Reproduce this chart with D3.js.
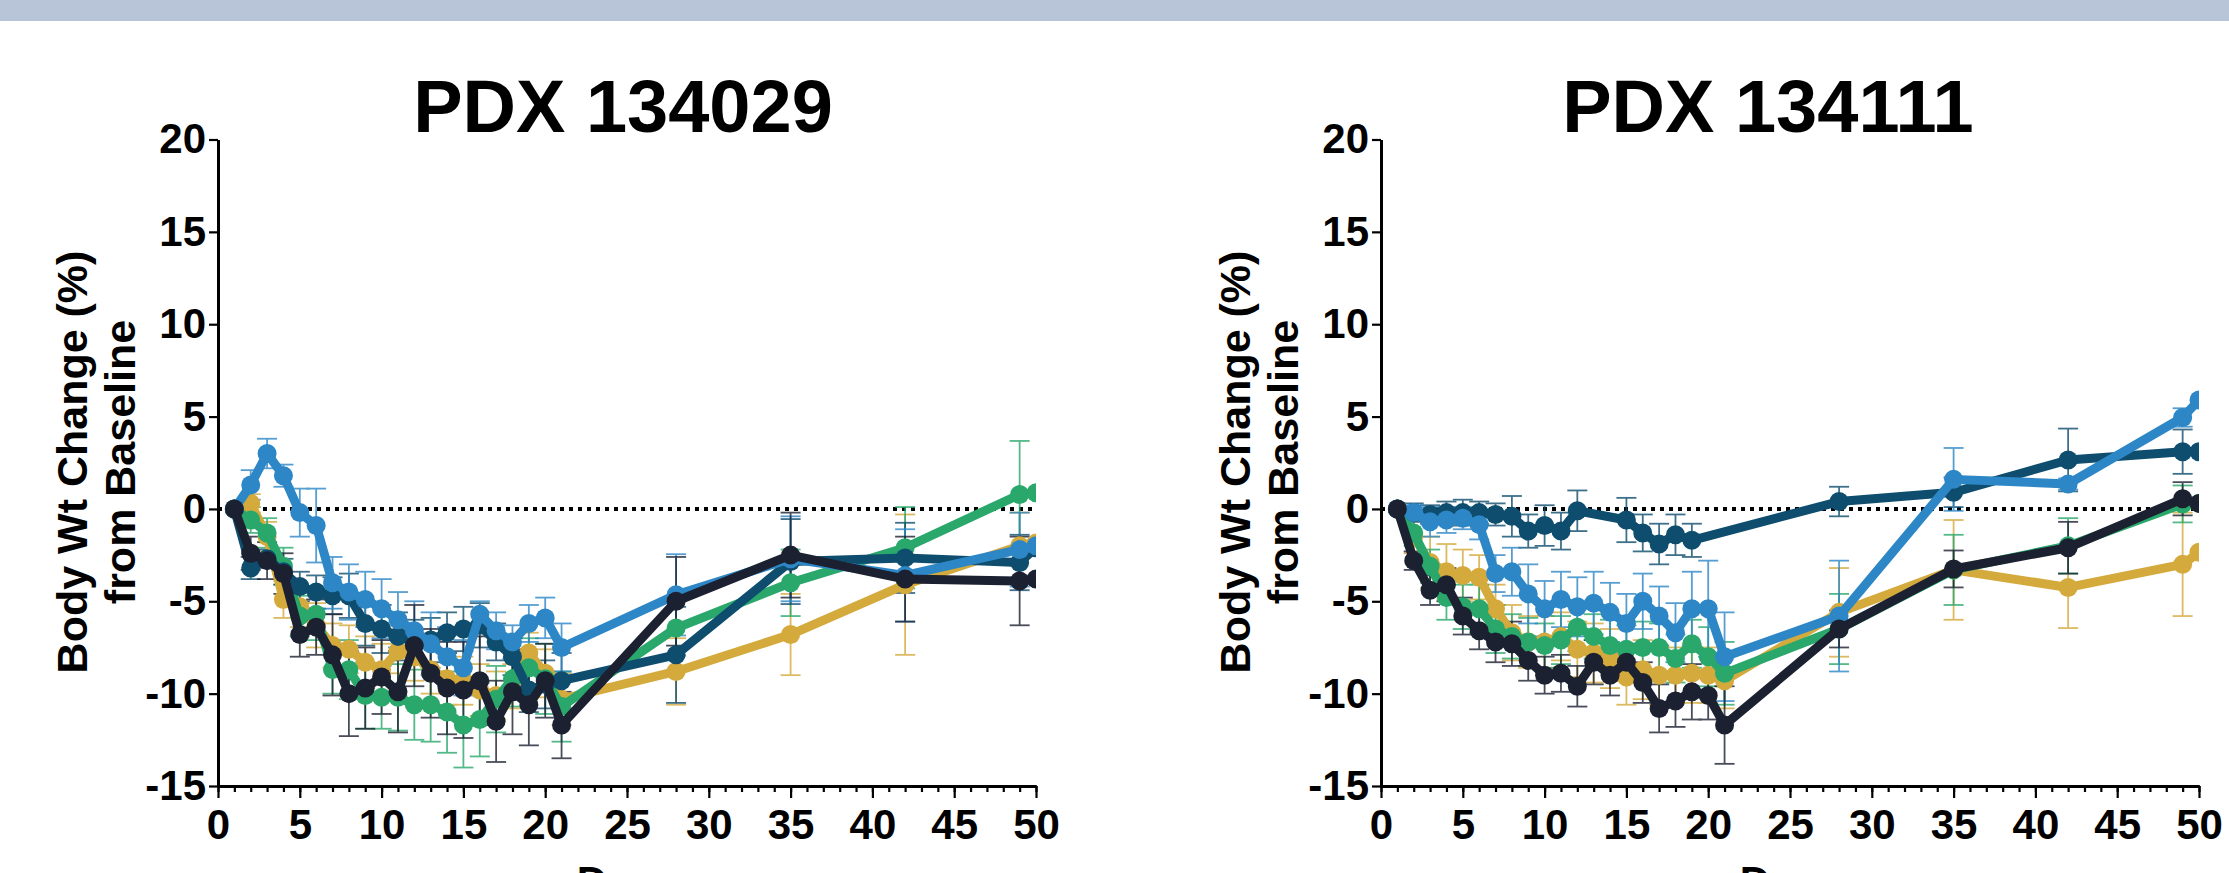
<!DOCTYPE html>
<html>
<head>
<meta charset="utf-8">
<script src="https://cdn.jsdelivr.net/npm/d3@7"></script>
<style>
  body { margin: 0; background: #fff; overflow: hidden; }
  text { font-family: "Liberation Sans", Arial, sans-serif; font-weight: bold; fill: #000; }
</style>
</head>
<body>
<svg id="chart" width="2229" height="873"></svg>
<script>
// ---- data ----
const days = [1, 2, 3, 4, 5, 6, 7, 8, 9, 10, 11, 12, 13, 14, 15, 16, 17, 18, 19, 20, 21, 28, 35, 42, 49, 50];
const xTickLabels = [0, 5, 10, 15, 20, 25, 30, 35, 40, 45, 50];
const yTickLabels = [-15, -10, -5, 0, 5, 10, 15, 20];
const titles = ["PDX 134029", "PDX 134111"];
const seriesNames = ["gold", "green", "teal", "lightBlue", "black"];
const seriesColors = ["#d4aa3c", "#2aa86c", "#0e4d6e", "#2d87c6", "#1c2131"];

// PDX 134029 (left)
const gold_L   = [0, 0.3, -1.5, -4.9, -5.3, -6.3, -7.4, -7.6, -8.3, -8.7, -7.7, -8.0, -8.7, -9.2, -9.3, -9.8, -10.1, -9.6, -7.8, -8.9, -10.3, -8.8, -6.8, -4.1, -2.0, -1.85];
const green_L  = [0, -0.6, -1.3, -3.1, -5.8, -5.7, -8.7, -8.7, -10.1, -10.2, -10.2, -10.6, -10.6, -11.0, -11.7, -11.4, -10.3, -9.2, -8.6, -9.2, -10.7, -6.45, -4.0, -2.1, 0.78, 0.87];
const teal_L   = [0, -3.2, -2.7, -3.4, -4.2, -4.5, -4.7, -4.7, -6.2, -6.5, -6.9, -7.2, -7.1, -6.7, -6.5, -6.3, -7.2, -8.0, -9.8, -9.5, -9.3, -7.9, -2.85, -2.65, -2.9, -2.1];
const lblue_L  = [0, 1.3, 3.0, 1.8, -0.2, -0.9, -4.0, -4.5, -4.9, -5.4, -6.0, -6.6, -7.3, -8.0, -8.6, -5.7, -6.6, -7.2, -6.2, -5.9, -7.5, -4.65, -2.7, -3.6, -2.2, -2.0];
const black_L  = [0, -2.4, -2.8, -3.5, -6.8, -6.4, -7.9, -10.0, -9.7, -9.1, -9.9, -7.4, -8.9, -9.7, -9.8, -9.3, -11.5, -9.9, -10.6, -9.3, -11.7, -5.0, -2.5, -3.8, -3.9, -3.8];
const goldErr_L  = [0, 0.5, 0.8, 1.0, 1.1, 1.2, 1.2, 1.3, 1.4, 1.4, 1.2, 1.3, 1.3, 1.4, 1.3, 1.4, 1.3, 1.2, 1.1, 1.3, 1.4, 1.8, 2.2, 3.8, 1.8, 0];
const greenErr_L = [0, 0.7, 0.8, 1.0, 1.1, 1.4, 1.3, 1.6, 1.8, 1.7, 1.8, 1.9, 2.0, 2.2, 2.3, 2.0, 1.8, 1.5, 1.6, 1.9, 1.9, 1.5, 1.8, 2.2, 2.9, 0];
const tealErr_L  = [0, 0.6, 0.5, 0.7, 0.8, 0.9, 1.0, 1.2, 1.2, 1.3, 1.3, 1.2, 1.2, 1.1, 1.2, 1.2, 1.0, 1.0, 1.2, 1.3, 1.5, 2.6, 2.3, 1.9, 1.5, 0];
const lblueErr_L = [0, 0.8, 0.8, 0.6, 1.3, 2.0, 1.4, 1.5, 1.5, 1.6, 1.5, 1.6, 1.7, 1.6, 1.5, 0.7, 1.0, 0.9, 1.0, 1.1, 1.3, 2.2, 2.3, 2.5, 2.0, 0];
const blackErr_L = [0, 0.9, 1.0, 1.1, 1.2, 1.5, 2.2, 2.3, 2.2, 2.0, 2.2, 2.2, 2.4, 2.5, 2.6, 2.4, 2.2, 2.3, 2.2, 2.0, 1.8, 2.4, 2.3, 2.3, 2.4, 0];

// PDX 134111 (right)
const gold_R   = [0, -1.5, -2.9, -3.4, -3.6, -3.7, -5.4, -6.7, -7.2, -7.2, -6.9, -7.6, -7.8, -8.1, -9.1, -8.7, -9.0, -9.0, -8.9, -9.0, -9.3, -5.6, -3.3, -4.25, -3.0, -2.35];
const green_R  = [0, -1.3, -3.1, -4.8, -5.3, -5.4, -6.5, -6.9, -7.2, -7.4, -7.1, -6.4, -6.9, -7.4, -7.6, -7.5, -7.5, -8.1, -7.3, -8.0, -8.9, -6.5, -3.3, -2.0, 0.27, 0.3];
const teal_R   = [0, -0.2, -0.3, -0.2, -0.2, -0.2, -0.3, -0.4, -1.2, -0.9, -1.2, -0.1, null, null, -0.6, -1.3, -1.9, -1.4, -1.7, null, null, 0.4, 0.9, 2.65, 3.1, 3.1];
const lblue_R  = [0, -0.2, -0.7, -0.6, -0.5, -0.85, -3.5, -3.4, -4.6, -5.4, -4.9, -5.3, -5.1, -5.6, -6.2, -5.0, -5.8, -6.7, -5.4, -5.4, -8.0, -5.8, 1.6, 1.35, 4.95, 5.9];
const black_R  = [0, -2.8, -4.4, -4.1, -5.8, -6.6, -7.2, -7.3, -8.2, -9.0, -8.9, -9.6, -8.3, -9.0, -8.3, -9.4, -10.8, -10.4, -9.9, -10.1, -11.7, -6.5, -3.25, -2.1, 0.55, 0.3];
const goldErr_R  = [0, 0.9, 1.4, 1.5, 1.4, 1.2, 1.3, 1.5, 1.4, 1.4, 1.3, 1.5, 1.6, 1.6, 1.5, 1.6, 1.6, 1.5, 1.6, 1.5, 1.5, 2.4, 2.7, 2.2, 2.8, 0];
const greenErr_R = [0, 0.7, 0.9, 1.2, 1.2, 1.3, 1.3, 1.2, 1.3, 1.2, 1.3, 1.3, 1.2, 1.4, 1.3, 1.4, 1.3, 1.3, 1.3, 1.6, 1.7, 1.9, 1.9, 1.5, 1.0, 0];
const tealErr_R  = [0, 0.5, 0.5, 0.6, 0.7, 0.6, 0.6, 1.1, 0.9, 1.1, 1.0, 1.1, null, null, 1.2, 1.0, 1.1, 1.1, 0.9, null, null, 0.8, 0.8, 1.7, 1.2, 0];
const lblueErr_R = [0, 0.4, 0.8, 0.7, 0.6, 0.8, 1.0, 1.3, 1.6, 1.5, 1.5, 1.6, 1.7, 1.6, 1.6, 1.5, 1.6, 1.6, 2.0, 2.6, 2.4, 3.0, 1.7, 0.3, 0.5, 0];
const blackErr_R = [0, 0.5, 0.8, 0.9, 1.0, 1.0, 1.1, 1.2, 1.1, 1.0, 1.0, 1.1, 1.2, 1.1, 1.0, 1.1, 1.3, 1.4, 1.5, 1.3, 2.1, 1.0, 1.0, 1.4, 0.9, 0];

const panels = [
  { title: titles[0], titleX: 623, x0: 218, x1: 1036,
    values: [gold_L, green_L, teal_L, lblue_L, black_L],
    errors: [goldErr_L, greenErr_L, tealErr_L, lblueErr_L, blackErr_L] },
  { title: titles[1], titleX: 1768, x0: 1381, x1: 2199,
    values: [gold_R, green_R, teal_R, lblue_R, black_R],
    errors: [goldErr_R, greenErr_R, tealErr_R, lblueErr_R, blackErr_R] }
];

const yTop = 139.5, yBottom = 786;
const fontFam = "Liberation Sans, Arial, sans-serif";

const svg = d3.select("#chart");

// light header band
svg.append("rect").attr("x", 0).attr("y", 0).attr("width", 2229).attr("height", 21).attr("fill", "#b8c4d8");

panels.forEach((p, pi) => {
  const x = d3.scaleLinear().domain([0, 50]).range([p.x0, p.x1]);
  const y = d3.scaleLinear().domain([-15, 20]).range([yBottom, yTop]);
  const g = svg.append("g");

  // title
  g.append("text")
    .attr("x", p.titleX).attr("y", 132)
    .attr("text-anchor", "middle")
    .style("font-size", "74px")
    .text(p.title);

  // y title (two lines)
  const cy = 462;
  [["Body Wt Change (%)", p.x0 - 146], ["from Baseline", p.x0 - 98]].forEach(([t, cx]) => {
    g.append("text")
      .attr("transform", "translate(" + cx + "," + cy + ") rotate(-90)")
      .attr("text-anchor", "middle")
      .attr("dy", "0.36em")
      .style("font-size", "43px")
      .text(t);
  });

  // x title, cut by the bottom edge as in the reference
  g.append("text")
    .attr("x", (p.x0 + p.x1) / 2).attr("y", 896)
    .attr("text-anchor", "middle")
    .style("font-size", "42px")
    .text("Days");

  // axes
  const yAxis = g.append("g")
    .attr("transform", "translate(" + p.x0 + ",0)")
    .call(d3.axisLeft(y).tickValues(yTickLabels).tickFormat(d => String(d))
      .tickSize(9).tickPadding(3).tickSizeOuter(0));
  yAxis.selectAll("text").style("font-size", "42px").style("font-family", fontFam)
    .style("font-weight", "bold").attr("fill", "#000");

  // minor x ticks every day
  g.append("g")
    .attr("transform", "translate(0," + yBottom + ")")
    .call(d3.axisBottom(x).ticks(50).tickSize(6).tickFormat("").tickSizeOuter(0));

  const xAxis = g.append("g")
    .attr("transform", "translate(0," + yBottom + ")")
    .call(d3.axisBottom(x).tickValues(xTickLabels).tickFormat(d => String(d))
      .tickSize(12).tickPadding(11).tickSizeOuter(0));
  xAxis.selectAll("text").style("font-size", "42px").style("font-family", fontFam)
    .style("font-weight", "bold").attr("fill", "#000");

  g.selectAll(".domain").attr("stroke", "#000").attr("stroke-width", 3);
  g.selectAll(".tick line").attr("stroke", "#000").attr("stroke-width", 2.2);

  // dotted baseline
  g.append("line")
    .attr("x1", x(0)).attr("x2", x(50))
    .attr("y1", y(0)).attr("y2", y(0))
    .attr("stroke", "#000").attr("stroke-width", 4)
    .attr("stroke-dasharray", "4,5");

  // clip at day 50
  const clipId = "clip" + pi;
  svg.append("clipPath").attr("id", clipId)
    .append("rect").attr("x", p.x0 - 30).attr("y", 100).attr("width", p.x1 - p.x0 + 30).attr("height", 720);

  const plot = g.append("g").attr("clip-path", "url(#" + clipId + ")");

  const series = seriesNames.map((name, si) => ({
    name: name,
    color: seriesColors[si],
    pts: days.map((d, i) => ({ day: d, v: p.values[si][i], e: p.errors[si][i] }))
             .filter(o => o.v !== null)
  }));

  // error bars first
  series.forEach(s => {
    const eb = plot.append("g").attr("stroke", s.color).attr("stroke-width", 1.8).attr("opacity", 0.8);
    s.pts.filter(o => o.e > 0).forEach(o => {
      const px = x(o.day);
      eb.append("line").attr("x1", px).attr("x2", px).attr("y1", y(o.v - o.e)).attr("y2", y(o.v + o.e));
      eb.append("line").attr("x1", px - 10).attr("x2", px + 10).attr("y1", y(o.v - o.e)).attr("y2", y(o.v - o.e));
      eb.append("line").attr("x1", px - 10).attr("x2", px + 10).attr("y1", y(o.v + o.e)).attr("y2", y(o.v + o.e));
    });
  });

  const line = d3.line().x(o => x(o.day)).y(o => y(o.v));

  series.forEach(s => {
    plot.append("path")
      .datum(s.pts)
      .attr("d", line)
      .attr("fill", "none")
      .attr("stroke", s.color)
      .attr("stroke-width", 9)
      .attr("stroke-linejoin", "round");
    plot.append("g").selectAll("circle")
      .data(s.pts)
      .enter().append("circle")
      .attr("cx", o => x(o.day))
      .attr("cy", o => y(o.v))
      .attr("r", 9.5)
      .attr("fill", s.color);
  });
});
</script>
</body>
</html>
